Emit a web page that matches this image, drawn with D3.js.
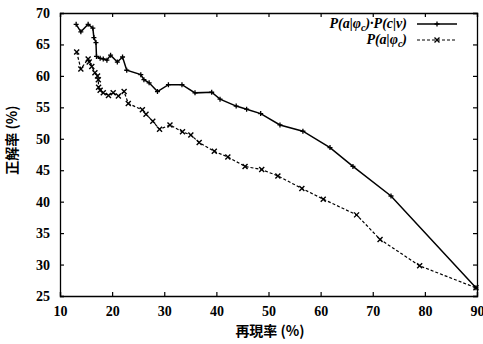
<!DOCTYPE html>
<meta charset="utf-8">
<style>
body { margin: 0; background: #fff; }
.tick text { font-family: "Liberation Serif", serif; font-weight: bold; font-size: 14px; }
.lg { font-family: "Liberation Serif", serif; font-style: italic; font-weight: bold; font-size: 14px; }
.ttl { font-family: "Noto Sans CJK JP", sans-serif; font-weight: bold; font-size: 14px; }
</style>
<body>
<script src="https://cdn.jsdelivr.net/npm/d3@7"></script>
<script>
// solid line: P(a|phi_c)*P(c|v)
var recallA = [13.1, 14.0, 15.4, 16.3, 16.5, 16.9, 17.0, 17.7, 18.3, 19.0, 19.7, 21.0, 22.0, 22.8, 25.5, 26.1, 27.1, 28.7, 30.8, 33.4, 35.9, 39.1, 40.7, 43.8, 45.8, 48.5, 52.2, 56.6, 61.8, 66.2, 73.5, 89.8];
var precA  = [68.2, 67.0, 68.2, 67.6, 66.1, 65.3, 63.1, 62.8, 62.7, 62.5, 63.3, 62.2, 63.0, 60.9, 60.2, 59.4, 58.9, 57.5, 58.6, 58.6, 57.3, 57.4, 56.3, 55.2, 54.7, 54.0, 52.2, 51.2, 48.6, 45.6, 40.9, 26.3];
// dashed line: P(a|phi_c)
var recallB = [13.2, 14.0, 15.4, 15.6, 16.1, 16.7, 17.2, 17.35, 17.4, 17.7, 18.3, 19.3, 20.2, 21.2, 22.3, 23.1, 25.8, 26.5, 27.8, 29.1, 31.1, 33.5, 35.1, 36.7, 39.6, 42.2, 45.5, 48.7, 51.8, 56.4, 60.5, 66.9, 71.4, 79.0, 89.8];
var precB  = [63.8, 61.1, 62.7, 62.2, 61.5, 60.5, 60.0, 59.4, 58.2, 57.7, 57.3, 56.9, 57.3, 56.8, 57.5, 55.6, 54.6, 53.9, 52.8, 51.5, 52.2, 51.1, 50.6, 49.4, 48.0, 47.1, 45.6, 45.1, 44.1, 42.1, 40.4, 37.9, 34.0, 29.8, 26.3];
var xTicks = [10, 20, 30, 40, 50, 60, 70, 80, 90];
var yTicks = [25, 30, 35, 40, 45, 50, 55, 60, 65, 70];

var W = 483, H = 344;
var svg = d3.select("body").append("svg").attr("width", W).attr("height", H);

var x = d3.scaleLinear().domain([10, 90]).range([60, 477]);
var y = d3.scaleLinear().domain([25, 70]).range([296, 13]);

// axes, ticks inward on all sides
svg.append("g").attr("transform", "translate(0," + y(25) + ")")
  .call(d3.axisBottom(x).tickValues(xTicks).tickSize(-4).tickPadding(10))
  .call(function(g){ g.selectAll("text").attr("dy", "0.71em"); });
svg.append("g").attr("transform", "translate(0," + y(70) + ")")
  .call(d3.axisTop(x).tickValues(xTicks).tickSize(-4).tickFormat(""));
svg.append("g").attr("transform", "translate(" + x(10) + ",0)")
  .call(d3.axisLeft(y).tickValues(yTicks).tickSize(-4).tickPadding(10));
svg.append("g").attr("transform", "translate(" + x(90) + ",0)")
  .call(d3.axisRight(y).tickValues(yTicks).tickSize(-4).tickFormat(""));
svg.selectAll(".domain").attr("stroke", "#000").attr("stroke-width", 1.3);
svg.selectAll(".tick line").attr("stroke", "#000").attr("stroke-width", 1.2);
svg.selectAll(".tick text").attr("fill", "#000");

var line = d3.line().x(function(d){ return x(d[0]); }).y(function(d){ return y(d[1]); });
var dataA = d3.zip(recallA, precA);
var dataB = d3.zip(recallB, precB);

svg.append("path").datum(dataB).attr("d", line)
  .attr("fill", "none").attr("stroke", "#000").attr("stroke-width", 1.2).attr("stroke-dasharray", "3,2");
svg.append("path").datum(dataA).attr("d", line)
  .attr("fill", "none").attr("stroke", "#000").attr("stroke-width", 1.5);

function plus(g, cx, cy) {
  g.append("path").attr("d", "M" + (cx-2.5) + "," + cy + "h5M" + cx + "," + (cy-2.5) + "v5")
    .attr("stroke", "#000").attr("stroke-width", 1.3);
}
function cross(g, cx, cy) {
  g.append("path").attr("d", "M" + (cx-2.5) + "," + (cy-2.5) + "l5,5M" + (cx+2.5) + "," + (cy-2.5) + "l-5,5")
    .attr("stroke", "#000").attr("stroke-width", 1.4);
}
var mk = svg.append("g");
dataA.forEach(function(d){ plus(mk, x(d[0]), y(d[1])); });
dataB.forEach(function(d){ cross(mk, x(d[0]), y(d[1])); });

// legend
var lg = svg.append("g");
var t1 = lg.append("text").attr("class", "lg").attr("x", 407).attr("y", 28).attr("text-anchor", "end");
t1.append("tspan").text("P(a|φ");
t1.append("tspan").attr("font-size", "10px").attr("dy", 3).text("c");
t1.append("tspan").attr("dy", -3).text(")·P(c|v)");
lg.append("line").attr("x1", 417).attr("x2", 457).attr("y1", 24).attr("y2", 24)
  .attr("stroke", "#000").attr("stroke-width", 1.5);
plus(lg, 437, 24);
var t2 = lg.append("text").attr("class", "lg").attr("x", 407).attr("y", 44).attr("text-anchor", "end");
t2.append("tspan").text("P(a|φ");
t2.append("tspan").attr("font-size", "10px").attr("dy", 3).text("c");
t2.append("tspan").attr("dy", -3).text(")");
lg.append("line").attr("x1", 417).attr("x2", 457).attr("y1", 40).attr("y2", 40)
  .attr("stroke", "#000").attr("stroke-width", 1.2).attr("stroke-dasharray", "3,2");
cross(lg, 437, 40);

// axis titles
svg.append("text").attr("class", "ttl").attr("x", 270).attr("y", 336)
  .attr("text-anchor", "middle").text("再現率 (%)");
svg.append("text").attr("class", "ttl")
  .attr("transform", "translate(17,140) rotate(-90)")
  .attr("text-anchor", "middle").text("正解率 (%)");
</script>
</body>
